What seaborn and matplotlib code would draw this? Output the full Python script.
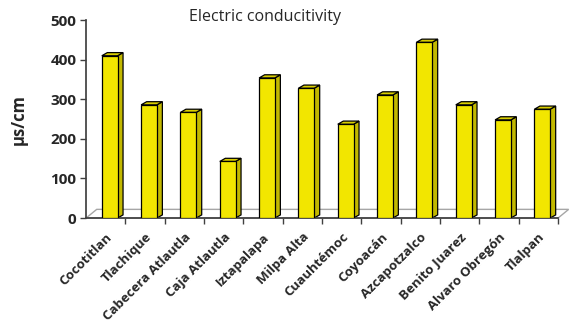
import matplotlib
matplotlib.use("Agg")
import matplotlib.pyplot as plt
from matplotlib.patches import Polygon
import seaborn as sns
import pandas as pd

sites = [
    "Cocotitlan", "Tlachique", "Cabecera Atlautla", "Caja Atlautla",
    "Iztapalapa", "Milpa Alta", "Cuauhtémoc", "Coyoacán",
    "Azcapotzalco", "Benito Juarez", "Alvaro Obregón", "Tlalpan",
]
conductivity = [410, 286, 267, 143, 354, 328, 237, 311, 444, 286, 248, 275]
yticks = [0, 100, 200, 300, 400, 500]

front_col = "#F2E600"
side_col = "#C2B800"
top_col = "#D9CE00"

sns.set_theme(style="white")
plt.rcParams["font.family"] = ["Open Sans", "DejaVu Sans"]

df = pd.DataFrame({"site": sites, "value": conductivity})

fig = plt.figure(figsize=(5.7, 3.25), dpi=100)
ax = fig.add_axes([0.151, 0.329, 0.828, 0.609])

sns.barplot(data=df, x="site", y="value", color=front_col, saturation=1,
            width=0.4, edgecolor="black", linewidth=0.9, ax=ax, zorder=3)

# fake 3D look: shift front faces a bit and add side/top faces
dx, dy = 0.14, 8
for p in ax.patches:
    p.set_x(p.get_x() + 0.1)
    x0, w, h = p.get_x(), p.get_width(), p.get_height()
    x1 = x0 + w
    side = Polygon([(x1, 0), (x1 + dx, dy), (x1 + dx, h + dy), (x1, h)],
                   closed=True, facecolor=side_col, edgecolor="black",
                   linewidth=0.9, zorder=2)
    top = Polygon([(x0, h), (x0 + dx, h + dy), (x1 + dx, h + dy), (x1, h)],
                  closed=True, facecolor=top_col, edgecolor="black",
                  linewidth=0.9, zorder=2)
    ax.add_patch(side)
    ax.add_patch(top)

n = len(sites)
ax.set_xlim(-0.5, n - 0.5)
ax.set_ylim(0, 500)

# floor
fdx, fdy = 0.27, 22
floor = Polygon([(-0.5, 0), (-0.5 + fdx, fdy), (n - 0.5 + fdx, fdy), (n - 0.5, 0)],
                closed=True, fill=False, edgecolor="#A6A6A6", linewidth=1,
                clip_on=False, zorder=1)
ax.add_patch(floor)

for s in ["top", "right"]:
    ax.spines[s].set_visible(False)
ax.spines["left"].set_color("#404040")
ax.spines["bottom"].set_color("#404040")

ax.set_yticks(yticks)
ax.set_yticklabels([str(v) for v in yticks], fontsize=11, fontweight="bold")
ax.tick_params(axis="y", direction="out", length=4, width=1, color="#404040",
               left=True, pad=3)

ax.set_xticks(range(n))
ax.set_xticklabels(sites, rotation=45, ha="right", rotation_mode="anchor",
                   fontsize=9.5, fontweight="bold")
ax.set_xticks([i + 0.5 for i in range(n)], minor=True)
ax.tick_params(axis="x", which="major", length=0, pad=9)
ax.tick_params(axis="x", which="minor", direction="out", length=4, width=1,
               color="#404040", bottom=True)

ax.set_xlabel("")
ax.set_ylabel("µs/cm", fontsize=12, fontweight="bold", labelpad=16)
ax.text(0.38, 1.015, "Electric conducitivity", transform=ax.transAxes,
        ha="center", va="center", fontsize=11.5)

fig.savefig("out.png", dpi=100)
